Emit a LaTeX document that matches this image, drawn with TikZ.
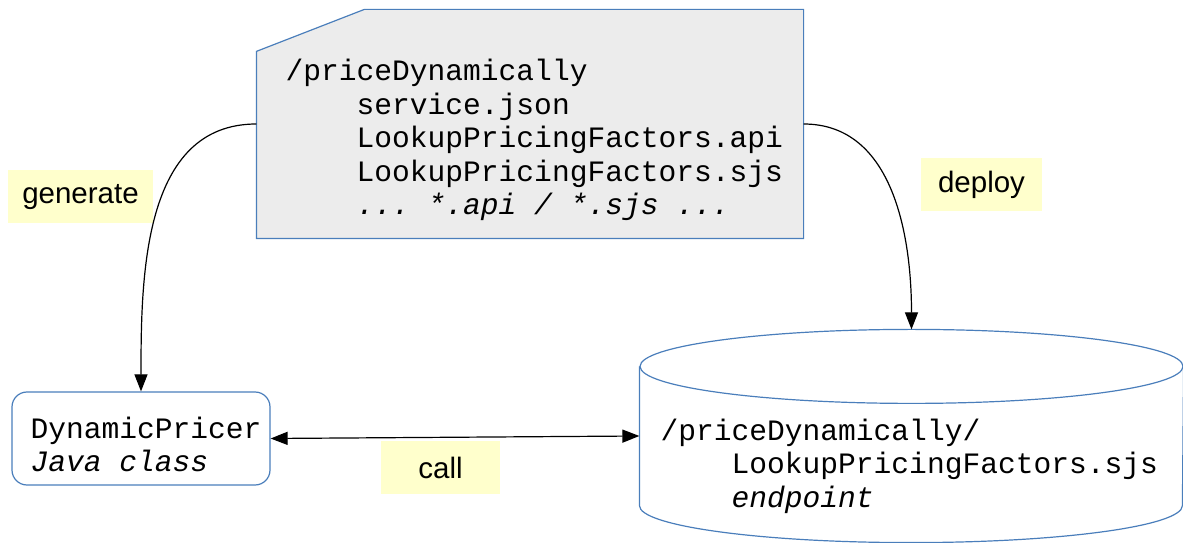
\documentclass[tikz,border=0pt]{standalone}
\usepackage{fontspec}
\setmainfont{Liberation Sans}
\setmonofont{Liberation Mono}
\usetikzlibrary{arrows.meta}
\definecolor{boxblue}{RGB}{74,126,187}
\definecolor{filegray}{RGB}{236,236,236}
\definecolor{noteyellow}{RGB}{255,255,204}
\newcommand{\indnt}{\hspace*{2.4em}}

\begin{document}
\begin{tikzpicture}[x=1pt, y=1pt, >={Triangle[length=17pt,width=13pt]}, line width=1.2pt,
  mono/.style={font=\ttfamily\fontsize{29.6}{33.5}\selectfont, align=left, inner sep=0pt, anchor=west},
  note/.style={fill=noteyellow, font=\fontsize{29.5}{33}\selectfont, minimum height=53pt, inner sep=0pt},
  outline/.style={line width=1.2pt, draw=boxblue}]
  \useasboundingbox (0,0) rectangle (1183,543);
  % file listing with cut corner
  \node[minimum width=546pt, minimum height=228pt, inner sep=0pt] (files) at (530,419) {};
  \draw[outline, fill=filegray] (files.south west) -- ([yshift=-42pt]files.north west)
    -- ([xshift=108pt]files.north west) -- (files.north east) -- (files.south east) -- cycle;
  \node[mono] (listing) at (285,403) {/priceDynamically\\
    \indnt service.json\\
    \indnt LookupPricingFactors.api\\
    \indnt LookupPricingFactors.sjs\\
    \indnt\textit{... *.api / *.sjs ...}};
  % java class
  \node[outline, rounded corners=15pt, minimum width=258pt, minimum height=93pt, inner sep=0pt] (pricer) at (141,104.5) {};
  \node[mono] (pricername) at (30,98.5) {DynamicPricer\\\textit{Java class}};
  % endpoint store
  \node[minimum width=543pt, minimum height=138pt, inner sep=0pt] (store) at (911.5,107) {};
  \draw[outline] (store.north) ellipse [x radius=271.5pt, y radius=37pt];
  \draw[outline] (store.north west) -- (store.south west)
    arc[start angle=180, end angle=360, x radius=271.5pt, y radius=37pt] -- (store.north east);
  \coordinate (storetop) at ([yshift=37pt]store.north);
  \node[mono] (endpoint) at (660,77) {/priceDynamically/\\
    \indnt LookupPricingFactors.sjs\\
    \indnt\textit{endpoint}};
  % labels
  \node[note, minimum width=145pt] (gen) at (80.5,346) {generate};
  \node[note, minimum width=121pt] (dep) at (981.5,358.5) {deploy};
  \node[note, minimum width=119pt] (call) at (440.5,75.5) {call};
  % connectors
  \draw[->] (files.west) to[out=180, in=90] (pricer.north);
  \draw[->] (files.east) to[out=0, in=90] (storetop);
  \draw[<->] (pricer.east) -- (store.west);
\end{tikzpicture}
\end{document}
